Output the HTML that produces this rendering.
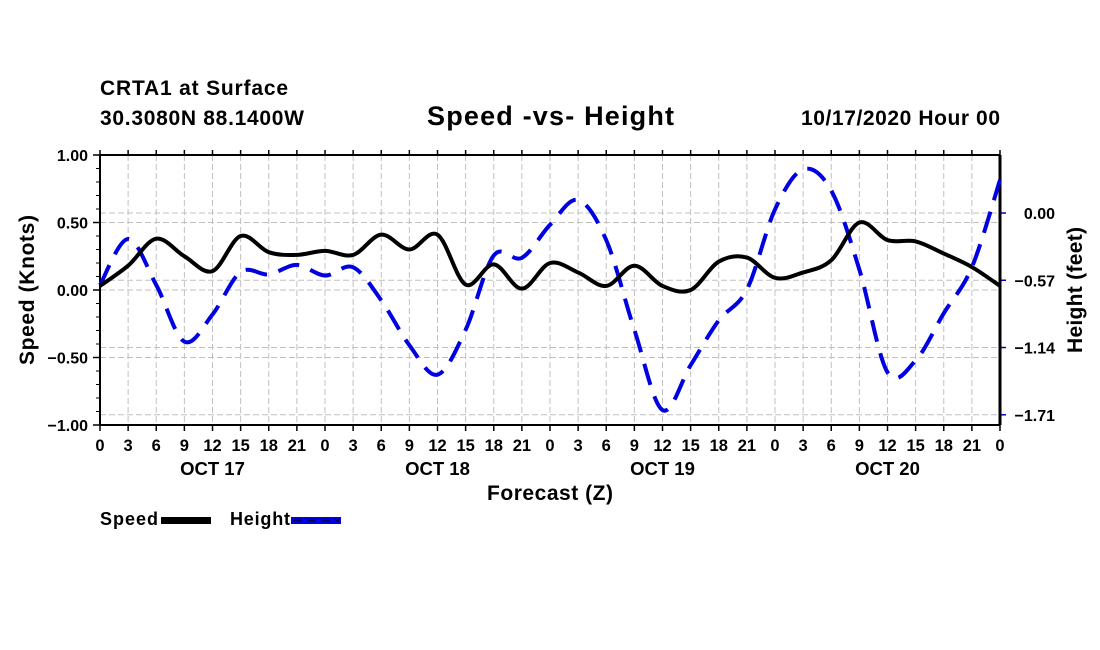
<!DOCTYPE html>
<html><head><meta charset="utf-8"><style>
body{margin:0;background:#fff;}
svg{display:block;font-family:"Liberation Sans",Arial,sans-serif;font-weight:bold;}
</style></head><body>
<svg id="c" width="1100" height="650">
<text x="100" y="95" font-size="21" textLength="188">CRTA1 at Surface</text>
<text x="100" y="125" font-size="21" textLength="204">30.3080N 88.1400W</text>
<text x="427" y="125" font-size="27" textLength="247">Speed -vs- Height</text>
<text x="801" y="125" font-size="21" textLength="199">10/17/2020 Hour 00</text>
<g id="grid"></g>
<g id="axes"></g>
<g id="series"></g>
<text x="550" y="500" font-size="21" textLength="126" text-anchor="middle">Forecast (Z)</text>
<text transform="translate(34,290) rotate(-90)" font-size="21" textLength="150" text-anchor="middle">Speed (Knots)</text>
<text transform="translate(1082,290) rotate(-90)" font-size="21" textLength="126" text-anchor="middle">Height (feet)</text>
<g>
<text x="100" y="525" font-size="18" textLength="58">Speed</text>
<rect x="161" y="517" width="50" height="7" fill="#000"/>
<text x="230" y="525" font-size="18" textLength="60">Height</text>
<rect x="291" y="517" width="50" height="7" fill="#0000e0"/>
<line x1="293" y1="520.5" x2="339" y2="520.5" stroke="#000050" stroke-width="2" stroke-dasharray="9,5"/>
</g>
</svg>
<script>
const hours=[0,3,6,9,12,15,18,21,24,27,30,33,36,39,42,45,48,51,54,57,60,63,66,69,72,75,78,81,84,87,90,93,96];
const speed=[0.03,0.18,0.38,0.25,0.14,0.40,0.28,0.26,0.29,0.26,0.41,0.30,0.41,0.04,0.19,0.01,0.20,0.13,0.03,0.18,0.03,0.00,0.21,0.24,0.09,0.13,0.22,0.50,0.37,0.36,0.27,0.17,0.03];
const height=[-0.61,-0.22,-0.61,-1.09,-0.86,-0.50,-0.52,-0.44,-0.53,-0.46,-0.74,-1.12,-1.37,-0.99,-0.36,-0.38,-0.10,0.11,-0.23,-0.99,-1.67,-1.29,-0.91,-0.65,0.03,0.37,0.19,-0.48,-1.35,-1.25,-0.85,-0.46,0.28];
const xTickLabels=["0","3","6","9","12","15","18","21","0","3","6","9","12","15","18","21","0","3","6","9","12","15","18","21","0","3","6","9","12","15","18","21","0"];
const dayLabels=["OCT 17","OCT 18","OCT 19","OCT 20"];
const leftTicks=[1,0.5,0,-0.5,-1];
const leftTickLabels=["1.00","0.50","0.00","\u22120.50","\u22121.00"];
const rightTicks=[0,-0.57,-1.14,-1.71];
const rightTickLabels=["0.00","\u22120.57","\u22121.14","\u22121.71"];
const X0=100,X1=1000,Y0=155,Y1=425;
const xs=h=>X0+(X1-X0)*h/96;
const ys=v=>Y1-(v+1)/2*(Y1-Y0);
const yh=v=>213-v*118;
const NS='http://www.w3.org/2000/svg';
function mk(t,a,p){const e=document.createElementNS(NS,t);for(const k in a)e.setAttribute(k,a[k]);p.appendChild(e);return e;}
const grid=document.getElementById('grid'),axes=document.getElementById('axes'),series=document.getElementById('series');
hours.forEach((h,i)=>{
 if(i>0&&i<hours.length-1){const l=mk('line',{x1:xs(h),x2:xs(h),y1:Y0,y2:Y1,stroke:'#c0c0c0','stroke-dasharray':'6,3'},grid);
 
 }
 const t=mk('line',{x1:xs(h),x2:xs(h),y1:Y1,y2:Y1+6,stroke:'#000','stroke-width':1.5},axes);
 
 
 const t2=mk('line',{x1:xs(h),x2:xs(h),y1:Y0,y2:Y0-5,stroke:'#000','stroke-width':1.5},axes);
 
 
 const tx=mk('text',{x:xs(h),y:451,'font-size':16.5,'text-anchor':'middle'},axes);tx.textContent=xTickLabels[i];
 
 
});
dayLabels.forEach((d,i)=>{const t=mk('text',{x:xs(12+24*i),y:475,'font-size':18.5,'text-anchor':'middle'},axes);t.textContent=d;
 
 });
leftTicks.forEach((v,i)=>{
 if(v<1&&v>-1){const l=mk('line',{x1:X0,x2:X1,y1:ys(v),y2:ys(v),stroke:'#c0c0c0','stroke-dasharray':'6,3'},grid);
 
 }
 const t=mk('line',{x1:X0-7,x2:X0,y1:ys(v),y2:ys(v),stroke:'#000','stroke-width':1.5},axes);
 
 
 const tx=mk('text',{x:88,y:ys(v)+6,'font-size':16,'text-anchor':'end'},axes);tx.textContent=leftTickLabels[i];
 
 
});
for(let k=-9;k<=9;k++){if(k%5===0)continue;const v=k/10;const t=mk('line',{x1:X0-4,x2:X0,y1:ys(v),y2:ys(v),stroke:'#000'},axes);
 
 }
rightTicks.forEach((v,i)=>{
 const l=mk('line',{x1:X0,x2:X1,y1:yh(v),y2:yh(v),stroke:'#c0c0c0','stroke-dasharray':'6,3'},grid);
 
 
 const t=mk('line',{x1:X1,x2:X1+6,y1:yh(v),y2:yh(v),stroke:'#0000c0','stroke-width':1.5},axes);
 
 
 const tx=mk('text',{x:1055,y:yh(v)+6,'font-size':16,'text-anchor':'end'},axes);tx.textContent=rightTickLabels[i];
 
 
});
const f1=mk('line',{x1:X0,x2:X0,y1:Y0,y2:Y1,stroke:'#000','stroke-width':2},axes);


const f2=mk('line',{x1:X0,x2:X1,y1:Y1,y2:Y1,stroke:'#000','stroke-width':2},axes);


const f3=mk('line',{x1:X0,x2:X1,y1:Y0,y2:Y0,stroke:'#000','stroke-width':2},axes);


const f4=mk('line',{x1:X1,x2:X1,y1:Y0,y2:Y1,stroke:'#000','stroke-width':3},axes);


function smooth(pts){let d='M'+pts[0][0]+','+pts[0][1];
 for(let i=0;i<pts.length-1;i++){const p0=pts[Math.max(0,i-1)],p1=pts[i],p2=pts[i+1],p3=pts[Math.min(pts.length-1,i+2)];
 d+=' C'+(p1[0]+(p2[0]-p0[0])/6)+','+(p1[1]+(p2[1]-p0[1])/6)+' '+(p2[0]-(p3[0]-p1[0])/6)+','+(p2[1]-(p3[1]-p1[1])/6)+' '+p2[0]+','+p2[1];}
 return d;}
const hp=mk('path',{d:smooth(hours.map((h,i)=>[xs(h),yh(height[i])])),fill:'none',stroke:'#0000e0','stroke-width':4,'stroke-dasharray':'22,12'},series);


const sp=mk('path',{d:smooth(hours.map((h,i)=>[xs(h),ys(speed[i])])),fill:'none',stroke:'#000','stroke-width':4},series);


</script>
</body></html>
